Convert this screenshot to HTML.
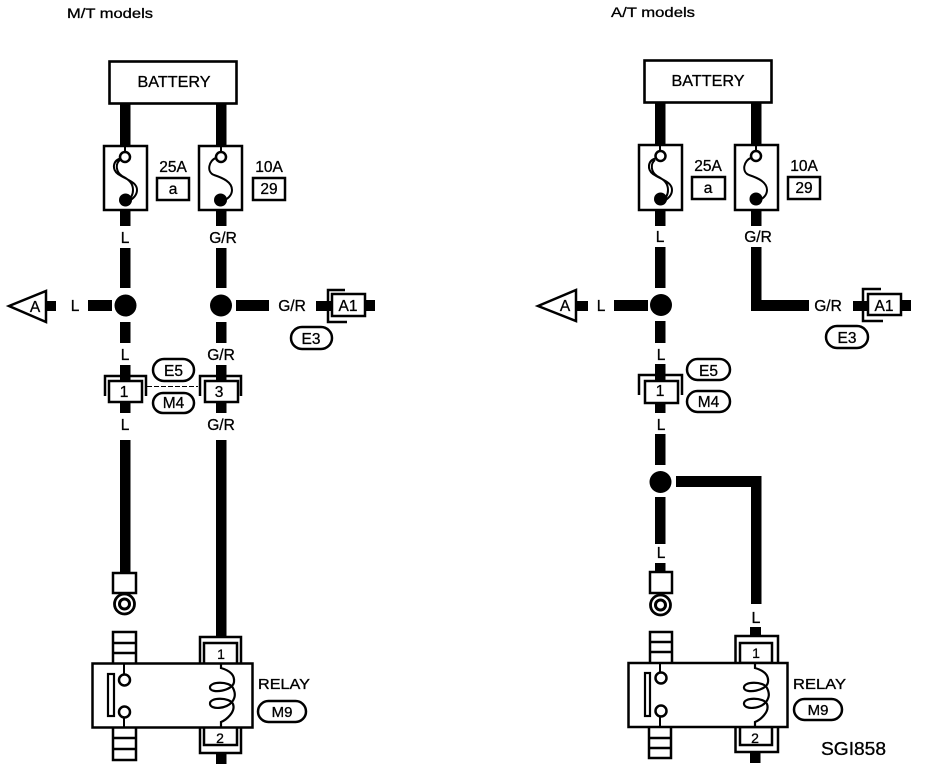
<!DOCTYPE html>
<html><head><meta charset="utf-8"><style>
html,body{margin:0;padding:0;background:#fff}
svg{display:block}
text{font-family:"Liberation Sans",sans-serif;fill:#000;stroke:#000;stroke-width:.3}
</style></head><body>
<svg width="928" height="772" viewBox="0 0 928 772" xmlns="http://www.w3.org/2000/svg">
<defs>
<g id="fuseS"><path d="M-5 158C-12 160-15 172-7 175C2 178 11 182 11 190C11 196 6 199 2 201" fill="none" stroke="#000" stroke-width="2"/></g>
<g id="fuseD"><path d="M-5 160C-10 164-9 172-3 176C5 180 8 184 8 190C8 196 5 199 2 201M-3 158C-13 160-13 170-7 174C2 180 12 182 12 190C12 196 7 199 3 202" fill="none" stroke="#000" stroke-width="2"/></g>
<path id="coil" d="M0 663V668C7 670 14 674 13 682C12 691-10 694-11 688C-12 681 9 681 12 688C15 694 14 698 11 702C5 709-10 710-11 704C-12 697 9 697 12 704C15 712 5 720 0 722V728" fill="none" stroke="#000" stroke-width="2.200"/>
</defs>

<text x="67" y="18" font-size="14" textLength="86" lengthAdjust="spacingAndGlyphs">M/T models</text>
<text x="611" y="17" font-size="14" textLength="84" lengthAdjust="spacingAndGlyphs">A/T models</text>

<!-- LEFT PANEL -->
<g fill="#000">
<rect x="120" y="103" width="10.500" height="44"/><rect x="216" y="103" width="10.500" height="44"/>
<rect x="120" y="209" width="10.500" height="17"/><rect x="216" y="209" width="10.500" height="17"/>
<rect x="120" y="248" width="10.500" height="40"/><rect x="216" y="248" width="10.500" height="40"/>
<rect x="120" y="322" width="10.500" height="21"/><rect x="216" y="322" width="10.500" height="21"/>
<rect x="120" y="365" width="10.500" height="16"/><rect x="216" y="365" width="10.500" height="16"/>
<rect x="120" y="402" width="10.500" height="11"/><rect x="216" y="402" width="10.500" height="11"/>
<rect x="120" y="440" width="10.500" height="133"/><rect x="216" y="440" width="10.500" height="197"/>
<rect x="46" y="301" width="10" height="10"/><rect x="88" y="300" width="24" height="11"/>
<rect x="236" y="300" width="33" height="11"/><rect x="316" y="301" width="16" height="10"/><rect x="365" y="300" width="10" height="11"/>
<rect x="216" y="752" width="10.500" height="12"/>
<circle cx="125.500" cy="305.500" r="11"/><circle cx="221" cy="305.500" r="11"/>
</g>
<rect x="109.500" y="61.500" width="127" height="42" fill="#fff" stroke="#000" stroke-width="2.600"/>
<text x="174" y="87" font-size="16" text-anchor="middle" textLength="73" lengthAdjust="spacingAndGlyphs">BATTERY</text>

<rect x="104" y="146" width="43" height="64" fill="#fff" stroke="#000" stroke-width="2.500"/>
<rect x="199" y="146" width="43" height="64" fill="#fff" stroke="#000" stroke-width="2.500"/>
<rect x="124" y="146" width="2" height="6"/><rect x="220" y="146" width="2" height="6"/>
<use href="#fuseD" x="125"/><use href="#fuseS" x="221"/>
<circle cx="125" cy="157" r="5" fill="#fff" stroke="#000" stroke-width="2.500"/><circle cx="221" cy="157" r="5" fill="#fff" stroke="#000" stroke-width="2.500"/>
<circle cx="125.500" cy="200" r="6.500"/><circle cx="220.500" cy="200" r="6.500"/>
<text x="173" y="172" font-size="15.500" text-anchor="middle">25A</text>
<text x="269" y="172" font-size="15.500" text-anchor="middle">10A</text>
<rect x="157" y="178" width="32" height="22" fill="#fff" stroke="#000" stroke-width="2.500"/>
<rect x="253" y="178" width="32" height="22" fill="#fff" stroke="#000" stroke-width="2.500"/>
<text x="173" y="194" font-size="15.500" text-anchor="middle">a</text>
<text x="269" y="194" font-size="15.500" text-anchor="middle">29</text>
<text x="125" y="243" font-size="15.500" text-anchor="middle">L</text>
<text x="223" y="243" font-size="15.500" text-anchor="middle">G/R</text>

<path d="M9 306L46 291V322Z" fill="#fff" stroke="#000" stroke-width="2.500"/>
<text x="35" y="312" font-size="15.500" text-anchor="middle">A</text>
<text x="75" y="311" font-size="15.500" text-anchor="middle">L</text>
<text x="292" y="311" font-size="15.500" text-anchor="middle">G/R</text>
<path d="M347 322H328V290H345" fill="none" stroke="#000" stroke-width="2.500"/>
<rect x="332" y="294" width="33" height="22" fill="#fff" stroke="#000" stroke-width="2.500"/>
<text x="348" y="311" font-size="15.500" text-anchor="middle">A1</text>
<rect x="291" y="327" width="41" height="22" rx="11" fill="#fff" stroke="#000" stroke-width="2.500"/>
<text x="311" y="344" font-size="15.500" text-anchor="middle">E3</text>
<text x="125" y="360" font-size="15.500" text-anchor="middle">L</text>
<text x="221" y="360" font-size="15.500" text-anchor="middle">G/R</text>

<path d="M105 396V376H146V396M200 396V376H241V396" fill="none" stroke="#000" stroke-width="2.500"/>
<rect x="109" y="381" width="33" height="21" fill="#fff" stroke="#000" stroke-width="2.500"/>
<rect x="205" y="381" width="33" height="21" fill="#fff" stroke="#000" stroke-width="2.500"/>
<text x="124" y="397" font-size="15.500" text-anchor="middle">1</text>
<text x="219" y="397" font-size="15.500" text-anchor="middle">3</text>
<line x1="147" y1="386.500" x2="198" y2="386.500" stroke="#000" stroke-width="1" stroke-dasharray="5 2"/>
<rect x="153" y="359" width="41" height="22" rx="11" fill="#fff" stroke="#000" stroke-width="2.500"/>
<rect x="153" y="393" width="41" height="20" rx="10" fill="#fff" stroke="#000" stroke-width="2.500"/>
<text x="173.500" y="376" font-size="15.500" text-anchor="middle">E5</text>
<text x="173.500" y="408" font-size="15.500" text-anchor="middle">M4</text>
<text x="125" y="430" font-size="15.500" text-anchor="middle">L</text>
<text x="221" y="430" font-size="15.500" text-anchor="middle">G/R</text>

<rect x="113" y="573" width="23" height="20" fill="#fff" stroke="#000" stroke-width="2.500"/>
<circle cx="124.500" cy="604" r="10" fill="#fff" stroke="#000" stroke-width="2.800"/>
<circle cx="124.500" cy="604" r="5" fill="#fff" stroke="#000" stroke-width="3"/>
<path d="M113 664V632H136V664M113 643H136M113 653H136" fill="none" stroke="#000" stroke-width="2.500"/>
<path d="M113 728V760H136V728M113 738H136M113 749H136" fill="none" stroke="#000" stroke-width="2.500"/>
<path d="M200 663V637H241V663M200 728V753H241V728" fill="none" stroke="#000" stroke-width="2.500"/>
<rect x="204" y="643" width="33" height="21" fill="#fff" stroke="#000" stroke-width="2.500"/>
<rect x="204" y="727" width="33" height="18" fill="#fff" stroke="#000" stroke-width="2.500"/>
<rect x="92.500" y="663.500" width="160" height="64" fill="#fff" stroke="#000" stroke-width="2.500"/>
<rect x="108" y="674" width="6" height="42" fill="#fff" stroke="#000" stroke-width="2.200"/>
<path d="M124 664V675M124 717V727" stroke="#000" stroke-width="2"/>
<circle cx="124.500" cy="680" r="5.500" fill="#fff" stroke="#000" stroke-width="2.500"/>
<circle cx="124.500" cy="712" r="5.500" fill="#fff" stroke="#000" stroke-width="2.500"/>
<use href="#coil" x="221"/>
<text x="221" y="659" font-size="14" text-anchor="middle">1</text>
<text x="220" y="743" font-size="14" text-anchor="middle">2</text>
<text x="258" y="689" font-size="14.500" textLength="52" lengthAdjust="spacingAndGlyphs">RELAY</text>
<rect x="258" y="701" width="48" height="21" rx="10.500" fill="#fff" stroke="#000" stroke-width="2.500"/>
<text x="282" y="717" font-size="15" text-anchor="middle">M9</text>

<!-- RIGHT PANEL -->
<g fill="#000">
<rect x="655" y="103" width="10.500" height="44"/><rect x="751" y="103" width="10.500" height="44"/>
<rect x="655" y="209" width="10.500" height="17"/><rect x="751" y="209" width="10.500" height="17"/>
<rect x="655" y="247" width="10.500" height="41"/><rect x="751" y="247" width="10.500" height="64"/>
<rect x="751" y="300" width="58" height="11"/>
<rect x="655" y="321" width="10.500" height="22"/>
<rect x="655" y="364" width="10.500" height="16"/>
<rect x="655" y="403" width="10.500" height="10"/>
<rect x="655" y="434" width="10.500" height="31"/>
<rect x="655" y="497" width="10.500" height="47"/>
<rect x="676" y="476" width="85.500" height="11"/><rect x="751" y="476" width="10.500" height="128"/>
<rect x="576" y="301" width="12" height="10"/><rect x="614" y="300" width="34" height="11"/>
<rect x="853" y="301" width="15" height="10"/><rect x="901" y="300" width="10" height="11"/>
<rect x="655" y="563" width="10.500" height="9"/>
<rect x="750" y="627" width="11" height="10"/>
<rect x="750" y="752" width="10.500" height="11"/>
<circle cx="661" cy="305" r="11"/><circle cx="660.500" cy="482" r="11"/>
</g>
<rect x="644.500" y="60.500" width="127" height="42" fill="#fff" stroke="#000" stroke-width="2.600"/>
<text x="708" y="86" font-size="16" text-anchor="middle" textLength="73" lengthAdjust="spacingAndGlyphs">BATTERY</text>

<rect x="639" y="145" width="43" height="65" fill="#fff" stroke="#000" stroke-width="2.500"/>
<rect x="735" y="145" width="43" height="65" fill="#fff" stroke="#000" stroke-width="2.500"/>
<rect x="659" y="145" width="2" height="6"/><rect x="755" y="145" width="2" height="6"/>
<use href="#fuseD" x="660"/><use href="#fuseS" x="756"/>
<circle cx="660.500" cy="156" r="5" fill="#fff" stroke="#000" stroke-width="2.500"/><circle cx="756" cy="156" r="5" fill="#fff" stroke="#000" stroke-width="2.500"/>
<circle cx="660.500" cy="199" r="6.500"/><circle cx="756" cy="199" r="6.500"/>
<text x="708" y="171" font-size="15.500" text-anchor="middle">25A</text>
<text x="804" y="171" font-size="15.500" text-anchor="middle">10A</text>
<rect x="692" y="177" width="33" height="22" fill="#fff" stroke="#000" stroke-width="2.500"/>
<rect x="788" y="177" width="32" height="22" fill="#fff" stroke="#000" stroke-width="2.500"/>
<text x="708" y="193" font-size="15.500" text-anchor="middle">a</text>
<text x="804" y="193" font-size="15.500" text-anchor="middle">29</text>
<text x="660" y="242" font-size="15.500" text-anchor="middle">L</text>
<text x="758" y="242" font-size="15.500" text-anchor="middle">G/R</text>

<path d="M538 306L576 290V321Z" fill="#fff" stroke="#000" stroke-width="2.500"/>
<text x="565" y="311" font-size="15.500" text-anchor="middle">A</text>
<text x="601" y="311" font-size="15.500" text-anchor="middle">L</text>
<text x="828" y="311" font-size="15.500" text-anchor="middle">G/R</text>
<path d="M883 321H863V289H881" fill="none" stroke="#000" stroke-width="2.500"/>
<rect x="868" y="294" width="33" height="21" fill="#fff" stroke="#000" stroke-width="2.500"/>
<text x="884" y="311" font-size="15.500" text-anchor="middle">A1</text>
<rect x="826" y="326" width="42" height="22" rx="11" fill="#fff" stroke="#000" stroke-width="2.500"/>
<text x="847" y="343" font-size="15.500" text-anchor="middle">E3</text>
<text x="661" y="360" font-size="15.500" text-anchor="middle">L</text>
<path d="M639 395V375H682V395" fill="none" stroke="#000" stroke-width="2.500"/>
<rect x="645" y="381" width="33" height="22" fill="#fff" stroke="#000" stroke-width="2.500"/>
<text x="660" y="396" font-size="15.500" text-anchor="middle">1</text>
<rect x="687" y="359" width="43" height="21" rx="10.500" fill="#fff" stroke="#000" stroke-width="2.500"/>
<rect x="687" y="391" width="43" height="21" rx="10.500" fill="#fff" stroke="#000" stroke-width="2.500"/>
<text x="708.500" y="376" font-size="15.500" text-anchor="middle">E5</text>
<text x="708.500" y="407" font-size="15.500" text-anchor="middle">M4</text>
<text x="661" y="430" font-size="15.500" text-anchor="middle">L</text>
<text x="661" y="558" font-size="15.500" text-anchor="middle">L</text>
<text x="756" y="623" font-size="16" text-anchor="middle">L</text>

<rect x="650" y="572" width="22" height="21" fill="#fff" stroke="#000" stroke-width="2.500"/>
<circle cx="660.500" cy="605" r="10" fill="#fff" stroke="#000" stroke-width="2.800"/>
<circle cx="660.500" cy="605" r="5" fill="#fff" stroke="#000" stroke-width="3"/>
<path d="M650 664V632H672V664M650 642H672M650 652H672" fill="none" stroke="#000" stroke-width="2.500"/>
<path d="M649 727V758H671V727M649 738H671M649 748H671" fill="none" stroke="#000" stroke-width="2.500"/>
<path d="M735.500 663V636H778V663M735.500 727V752H778V727" fill="none" stroke="#000" stroke-width="2.500"/>
<rect x="740" y="643" width="32" height="20" fill="#fff" stroke="#000" stroke-width="2.500"/>
<rect x="740" y="727" width="32" height="18" fill="#fff" stroke="#000" stroke-width="2.500"/>
<rect x="628.500" y="663" width="159" height="64" fill="#fff" stroke="#000" stroke-width="2.500"/>
<rect x="645" y="673" width="5" height="43" fill="#fff" stroke="#000" stroke-width="2.200"/>
<path d="M660 664V673M660 716V727" stroke="#000" stroke-width="2"/>
<circle cx="661" cy="678" r="5.500" fill="#fff" stroke="#000" stroke-width="2.500"/>
<circle cx="661" cy="711" r="5.500" fill="#fff" stroke="#000" stroke-width="2.500"/>
<use href="#coil" x="755"/>
<text x="756" y="658" font-size="14" text-anchor="middle">1</text>
<text x="755" y="743" font-size="14" text-anchor="middle">2</text>
<text x="793" y="689" font-size="14.500" textLength="53" lengthAdjust="spacingAndGlyphs">RELAY</text>
<rect x="794" y="699" width="48" height="21" rx="10.500" fill="#fff" stroke="#000" stroke-width="2.500"/>
<text x="818" y="715" font-size="15" text-anchor="middle">M9</text>
<text x="821" y="755" font-size="18" textLength="65" lengthAdjust="spacingAndGlyphs">SGI858</text>
</svg>
</body></html>
